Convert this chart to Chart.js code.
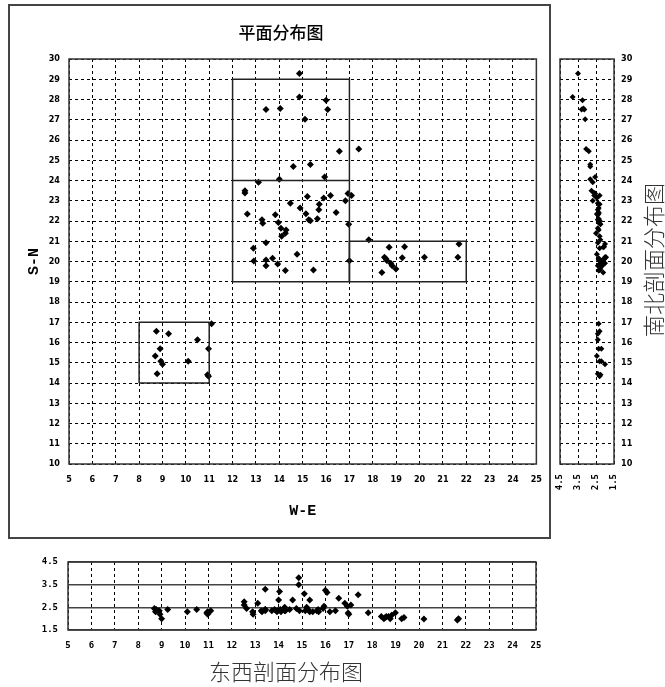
<!DOCTYPE html>
<html>
<head>
<meta charset="utf-8">
<script src="https://cdn.jsdelivr.net/npm/chart.js@4.4.1/dist/chart.umd.min.js"></script>
<style>
  html, body { margin: 0; padding: 0; background: #fff; }
  body { width: 665px; height: 687px; position: relative; overflow: hidden; }
  canvas { position: absolute; }
  #frame { position: absolute; left: 8px; top: 4px; width: 543px; height: 535px; border: 2px solid #444; box-sizing: border-box; pointer-events: none; }
</style>
</head>
<body>
<canvas id="planChart" width="552" height="540" style="left:0;top:0"></canvas>
<canvas id="nsChart" width="113" height="540" style="left:552px;top:0"></canvas>
<canvas id="ewChart" width="552" height="147" style="left:0;top:540px"></canvas>
<div id="frame"></div>
<script>
// W-E position, S-N position and depth of every point
const weVals = [
  14.86, 14.86, 16.0, 16.07, 13.43, 14.04, 15.1, 16.57, 17.4, 14.6,
  15.33, 15.94, 14.0, 13.11, 12.53, 12.53, 12.63, 13.26, 13.29, 13.83,
  13.96, 14.07, 14.29, 14.26, 14.1, 13.43, 12.89, 12.91, 13.43, 13.43,
  13.71, 13.93, 14.26, 14.76, 15.46, 14.47, 14.89, 15.2, 15.14, 15.26,
  15.33, 15.63, 15.69, 15.71, 15.9, 16.19, 16.43, 16.83, 16.94, 17.09,
  16.97, 17.0, 17.83,
  18.7, 19.36, 18.5, 18.6, 18.77, 18.83, 18.99, 18.39, 19.26, 20.21,
  21.69, 21.64, 18.56,
  8.74, 9.26, 10.5, 8.9, 10.97, 8.69, 8.93, 9.0, 10.1, 8.77,
  10.97, 10.93, 11.1
];
const snVals = [
  29.28, 28.12, 27.96, 27.51, 27.51, 27.56, 27.02, 25.45, 25.55, 24.69,
  24.79, 24.17, 24.06, 23.91, 23.5, 23.38, 22.34, 22.06, 21.89, 22.31,
  21.93, 21.64, 21.56, 21.4, 21.25, 20.93, 20.65, 20.02, 20.07, 19.79,
  20.16, 19.88, 19.55, 20.36, 19.58, 22.88, 22.64, 23.21, 22.36, 22.06,
  22.01, 22.11, 22.55, 22.83, 23.13, 23.26, 22.42, 23.0, 23.36, 23.26,
  21.84, 20.04, 21.07,
  20.7, 20.73, 20.21, 20.05, 19.91, 19.79, 19.63, 19.46, 20.18, 20.21,
  20.87, 20.21, 20.13,
  16.56, 16.43, 16.13, 15.69, 15.69, 15.33, 15.08, 14.92, 15.08, 14.46,
  14.33, 14.41, 16.92
];
const depthVals = [
  3.5, 3.8, 3.25, 3.15, 3.3, 3.2, 3.1, 2.9, 3.05, 2.82,
  2.82, 2.55, 2.82, 2.68, 2.75, 2.6, 2.45, 2.35, 2.3, 2.4,
  2.35, 2.4, 2.35, 2.5, 2.3, 2.4, 2.3, 2.2, 2.35, 2.4,
  2.35, 2.3, 2.35, 2.45, 2.3, 2.4, 2.35, 2.5, 2.35, 2.4,
  2.3, 2.35, 2.4, 2.3, 2.45, 2.3, 2.35, 2.68, 2.55, 2.6,
  2.25, 2.2, 2.26,
  2.1, 2.05, 2.0, 2.1, 2.0, 2.15, 2.26, 2.1, 2.0, 1.98,
  2.0, 1.94, 2.05,
  2.3, 2.4, 2.4, 2.35, 2.2, 2.45, 2.2, 2.0, 2.3, 2.4,
  2.3, 2.25, 2.35
];
const weTicks = [5, 6, 7, 8, 9, 10, 11, 12, 13, 14, 15, 16, 17, 18, 19, 20, 21, 22, 23, 24, 25];
const snTicks = [10, 11, 12, 13, 14, 15, 16, 17, 18, 19, 20, 21, 22, 23, 24, 25, 26, 27, 28, 29, 30];
const depthTicks = [1.5, 2.5, 3.5, 4.5];
// zone outlines: [west, south, east, north]
const zones = [[12, 19, 17, 29], [17, 19, 22, 21], [8, 14, 11, 17]];
const zoneSplit = [[12, 24], [17, 24]];

const tickFont = { family: "'Liberation Sans Narrow', 'DejaVu Sans Condensed', 'Liberation Sans'", size: 9, weight: 'bold' };
const monoFont = { family: "'DejaVu Sans Mono', 'Liberation Mono'", size: 9, weight: 'bold' };
const axisTitleFont = { family: "'Liberation Mono'", size: 15, weight: 'bold' };

const plotFrame = {
  id: 'plotFrame',
  beforeDatasetsDraw(chart) {
    const a = chart.chartArea, ctx = chart.ctx;
    ctx.save();
    ctx.strokeStyle = '#333';
    ctx.lineWidth = 1.5;
    ctx.setLineDash([]);
    ctx.strokeRect(a.left, a.top, a.right - a.left, a.bottom - a.top);
    ctx.restore();
  }
};

const sideCaption = {
  id: 'sideCaption',
  afterDraw(chart, args, opts) {
    const ctx = chart.ctx;
    ctx.save();
    ctx.translate(opts.x, opts.y);
    ctx.rotate(-Math.PI / 2);
    ctx.font = "300 22px 'Noto Sans CJK SC'";
    ctx.fillStyle = '#333';
    ctx.textAlign = 'center';
    ctx.textBaseline = 'middle';
    ctx.fillText(opts.text, 0, 0);
    ctx.restore();
  }
};

const dots = (xs, ys) => xs.map((v, i) => ({ x: v, y: ys[i] }));
const setTicks = list => scale => { scale.ticks = list.map(v => ({ value: v })); };
const dashedGrid = { color: '#000', lineWidth: 1, drawTicks: false };

const zoneSets = zones.map(z => ({
  data: [{ x: z[0], y: z[1] }, { x: z[2], y: z[1] }, { x: z[2], y: z[3] }, { x: z[0], y: z[3] }, { x: z[0], y: z[1] }],
  showLine: true, borderColor: '#222', borderWidth: 1.5, pointRadius: 0
}));
zoneSets.push({
  data: zoneSplit.map(p => ({ x: p[0], y: p[1] })),
  showLine: true, borderColor: '#222', borderWidth: 1.5, pointRadius: 0
});

const pointStyle = {
  pointStyle: 'rectRot', pointRadius: 3.5, backgroundColor: '#000', borderColor: '#000', borderWidth: 0
};

new Chart(document.getElementById('planChart'), {
  type: 'scatter',
  data: {
    datasets: [...zoneSets, { data: dots(weVals, snVals), ...pointStyle }]
  },
  options: {
    responsive: false, animation: false, events: [],
    layout: { padding: { left: 25, right: 15, top: 0, bottom: 0 } },
    plugins: {
      legend: { display: false }, tooltip: { enabled: false },
      title: {
        display: true, text: '平面分布图', color: '#000',
        font: { family: "'Noto Sans CJK SC'", size: 17, weight: 500 },
        padding: { top: 22.8, bottom: 15.8 }
      }
    },
    scales: {
      x: {
        type: 'linear', min: 5, max: 25,
        afterBuildTicks: setTicks(weTicks),
        afterFit: s => { s.height = 76; },
        grid: dashedGrid, border: { display: false, dash: [3, 3] },
        ticks: { color: '#000', font: tickFont, padding: 10, autoSkip: false, maxRotation: 0, callback: v => String(v) },
        title: { display: true, text: 'W-E', color: '#000', font: axisTitleFont, padding: { top: 0, bottom: 20 } }
      },
      y: {
        type: 'linear', min: 10, max: 30,
        afterBuildTicks: setTicks(snTicks),
        afterFit: s => { s.width = 44; },
        grid: dashedGrid, border: { display: false, dash: [3, 3] },
        ticks: { color: '#000', font: tickFont, padding: 9, autoSkip: false, callback: v => String(v) },
        title: { display: true, text: 'S-N', color: '#000', font: axisTitleFont, padding: { top: 0, bottom: 0 } }
      }
    }
  },
  plugins: [plotFrame]
});

new Chart(document.getElementById('nsChart'), {
  type: 'scatter',
  data: { datasets: [{ data: dots(depthVals, snVals), ...pointStyle, pointRadius: 3 }] },
  options: {
    responsive: false, animation: false, events: [],
    layout: { padding: { left: 8, right: 0, top: 59, bottom: 0 } },
    plugins: {
      legend: { display: false }, tooltip: { enabled: false },
      sideCaption: { text: '南北剖面分布图', x: 102, y: 260 }
    },
    scales: {
      x: {
        type: 'linear', min: 1.5, max: 4.5, reverse: true,
        afterBuildTicks: setTicks(depthTicks),
        afterFit: s => { s.height = 76; },
        grid: dashedGrid, border: { display: false, dash: [3, 3] },
        ticks: { color: '#000', font: monoFont, padding: 10, autoSkip: false, minRotation: 90, maxRotation: 90, callback: v => v.toFixed(1) }
      },
      y: {
        type: 'linear', position: 'right', min: 10, max: 30,
        afterBuildTicks: setTicks(snTicks),
        afterFit: s => { s.width = 51; },
        grid: dashedGrid, border: { display: false, dash: [3, 3] },
        ticks: { color: '#000', font: tickFont, padding: 7, autoSkip: false, callback: v => String(v) }
      }
    }
  },
  plugins: [plotFrame, sideCaption]
});

new Chart(document.getElementById('ewChart'), {
  type: 'scatter',
  data: { datasets: [{ data: dots(weVals, depthVals), ...pointStyle }] },
  options: {
    responsive: false, animation: false, events: [],
    layout: { padding: { left: 36, right: 16, top: 22, bottom: 0 } },
    plugins: {
      legend: { display: false }, tooltip: { enabled: false },
      title: {
        display: true, position: 'bottom', text: '东西剖面分布图', color: '#333',
        font: { family: "'Noto Sans CJK SC'", size: 22, weight: 300 },
        padding: { top: 0, bottom: 2 }
      }
    },
    scales: {
      x: {
        type: 'linear', min: 5, max: 25,
        afterBuildTicks: setTicks(weTicks),
        afterFit: s => { s.height = 28.6; },
        grid: dashedGrid, border: { display: false, dash: [3, 3] },
        ticks: { color: '#000', font: monoFont, padding: 10, autoSkip: false, maxRotation: 0, callback: v => String(v) }
      },
      y: {
        type: 'linear', min: 1.5, max: 4.5,
        afterBuildTicks: setTicks(depthTicks),
        afterFit: s => { s.width = 32; },
        grid: { color: '#444', lineWidth: 1.5, drawTicks: false },
        border: { display: false },
        ticks: { color: '#000', font: monoFont, padding: 10, autoSkip: false, callback: v => v.toFixed(1) }
      }
    }
  },
  plugins: [plotFrame]
});
</script>
</body>
</html>
